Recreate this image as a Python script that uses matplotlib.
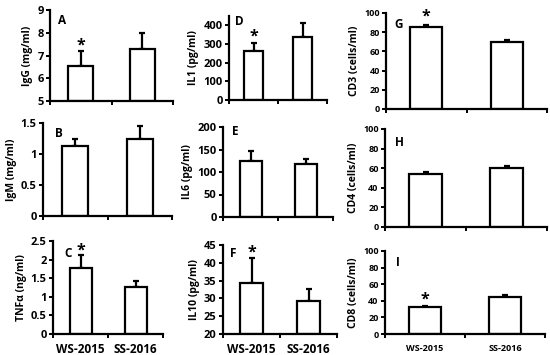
import matplotlib
matplotlib.use('Agg')
import matplotlib.pyplot as plt
from matplotlib.ticker import FormatStrFormatter

plt.rcParams['font.family'] = ['Open Sans', 'DejaVu Sans']
plt.rcParams['font.weight'] = 'bold'

groups = ['WS-2015', 'SS-2016']

# mean values and upper error (sd)
igg_mean, igg_err = [6.55, 7.3], [0.65, 0.7]
igm_mean, igm_err = [1.13, 1.25], [0.11, 0.2]
tnf_mean, tnf_err = [1.78, 1.27], [0.34, 0.15]
il1_mean, il1_err = [262, 340], [43, 70]
il6_mean, il6_err = [125, 118], [22, 12]
il10_mean, il10_err = [34.2, 29.2], [7.1, 3.5]
cd3_mean, cd3_err = [85, 70], [2, 2]
cd4_mean, cd4_err = [54, 60], [2, 2]
cd8_mean, cd8_err = [32, 45], [1.5, 2.5]

W, H = 550, 355
fig = plt.figure(figsize=(W / 100, H / 100), dpi=100)
fig.patch.set_facecolor('white')


def panel(box, mean, err, ylim, yticks, ylabel, letter, lpos, star=None,
          xlabels=False, small=False):
    x0, x1, y0, y1 = box
    ax = fig.add_axes([x0 / W, 1 - y1 / H, (x1 - x0) / W, (y1 - y0) / H])
    lo = ylim[0]
    ax.bar([0, 1], [m - lo for m in mean], bottom=lo, width=0.4,
           color='white', edgecolor='black', linewidth=1.6, zorder=2)
    ax.errorbar([0, 1], mean, yerr=[[0, 0], err], fmt='none', ecolor='black',
                elinewidth=1.6, capsize=2.5, capthick=1.6, zorder=1)
    ax.set_xlim(-0.5, 1.5)
    ax.set_ylim(*ylim)
    ax.set_yticks(yticks)
    ax.yaxis.set_major_formatter(FormatStrFormatter('%g'))
    ax.set_xticks([-0.5, 0.5, 1.5])
    ax.set_xticklabels([])
    for s in ['top', 'right']:
        ax.spines[s].set_visible(False)
    for s in ['left', 'bottom']:
        ax.spines[s].set_linewidth(1.6)
    fs = 6.5 if small else 8
    ax.tick_params(axis='y', direction='out', length=3, width=1.4,
                   labelsize=fs, pad=1.5)
    ax.tick_params(axis='x', direction='out', length=3, width=1.4)
    for t in ax.get_yticklabels():
        t.set_fontweight('bold')
    ax.set_ylabel(ylabel, fontsize=7.5, fontweight='bold', labelpad=3)
    ax.text(lpos[0], lpos[1], letter, transform=ax.transAxes,
            fontsize=8.5, fontweight='bold', va='center', ha='center')
    if star is not None:
        ax.text(0, star, '*', fontsize=11.5, fontweight='bold',
                ha='center', va='center')
    if xlabels:
        for i, g in enumerate(groups):
            ax.text(i, -0.17, g, transform=ax.get_xaxis_transform(),
                    ha='center', va='center', fontweight='bold',
                    fontsize=6.5 if small else 8.5)
    return ax


panel((50, 173, 10, 101), igg_mean, igg_err, (5, 9), [5, 6, 7, 8, 9],
      'IgG (mg/ml)', 'A', (0.1, 0.88), star=7.45)
panel((43, 172, 123, 216), igm_mean, igm_err, (0, 1.5), [0, 0.5, 1, 1.5],
      'IgM (mg/ml)', 'B', (0.12, 0.89))
panel((53, 163, 241, 334), tnf_mean, tnf_err, (0, 2.5),
      [0, 0.5, 1, 1.5, 2, 2.5], 'TNF\u03b1 (ng/ml)', 'C', (0.14, 0.87),
      star=2.25, xlabels=True)

panel((229, 327, 16, 100), il1_mean, il1_err, (0, 450),
      [0, 100, 200, 300, 400], 'IL1 (pg/ml)', 'D', (0.11, 0.93), star=340)
panel((223, 333, 127, 217), il6_mean, il6_err, (0, 200),
      [0, 50, 100, 150, 200], 'IL6 (pg/ml)', 'E', (0.11, 0.95))
panel((223, 337, 245, 334), il10_mean, il10_err, (20, 45),
      [20, 25, 30, 35, 40, 45], 'IL10 (pg/ml)', 'F', (0.09, 0.9),
      star=42.8, xlabels=True)

panel((386, 547, 13, 109), cd3_mean, cd3_err, (0, 100),
      [0, 20, 40, 60, 80, 100], 'CD3 (cells/ml)', 'G', (0.08, 0.875),
      star=96, small=True)
panel((385, 547, 129, 227), cd4_mean, cd4_err, (0, 100),
      [0, 20, 40, 60, 80, 100], 'CD4 (cells/ml)', 'H', (0.09, 0.86),
      small=True)
panel((385, 545, 251, 334), cd8_mean, cd8_err, (0, 100),
      [0, 20, 40, 60, 80, 100], 'CD8 (cells/ml)', 'I', (0.08, 0.86),
      star=42, xlabels=True, small=True)

fig.savefig('out.png', dpi=100)
